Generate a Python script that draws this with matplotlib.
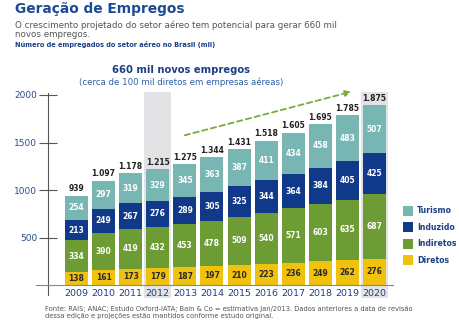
import numpy as np
import matplotlib
matplotlib.use("Agg")
import matplotlib.pyplot as plt
from matplotlib.patches import Rectangle, FancyArrowPatch

plt.rcParams["font.family"] = ["DejaVu Sans"]

YEARS = ["2009", "2010", "2011", "2012", "2013", "2014", "2015",
         "2016", "2017", "2018", "2019", "2020"]
DIRETOS = [138, 161, 173, 179, 187, 197, 210, 223, 236, 249, 262, 276]
INDIRETOS = [334, 390, 419, 432, 453, 478, 509, 540, 571, 603, 635, 687]
INDUZIDO = [213, 249, 267, 276, 289, 305, 325, 344, 364, 384, 405, 425]
TURISMO = [254, 297, 319, 329, 345, 363, 387, 411, 434, 458, 483, 507]
TOTAIS = ["939", "1.097", "1.178", "1.215", "1.275", "1.344", "1.431",
          "1.518", "1.605", "1.695", "1.785", "1.875"]
DESTAQUE = ["2012", "2020"]

SERIES = [
    ("Diretos", DIRETOS, "#f0c20e", "#2a2a2a"),
    ("Indiretos", INDIRETOS, "#6e9c34", "white"),
    ("Induzido", INDUZIDO, "#11398a", "white"),
    ("Turismo", TURISMO, "#78b6b3", "white"),
]

NAVY = "#1d3f84"
W, H = 460, 325


def fx(px):
    return px / W


def fy(py):
    return 1 - py / H


fig = plt.figure(figsize=(W / 100, H / 100), dpi=100)
ax = fig.add_axes([fx(36), fy(295), fx(393) - fx(36), fy(93) - fy(295)])

x = np.arange(len(YEARS))
ax.set_xlim(-1.494, 11.68)
ax.set_ylim(-105, 2021)

# highlighted columns (base year and final projection)
for yr in DESTAQUE:
    i = YEARS.index(yr)
    ax.add_patch(Rectangle((i - 0.5, -137), 1.0, 2032 + 137, facecolor="#e3e3e5",
                           edgecolor="none", zorder=0, clip_on=False))

bottom = np.zeros(len(YEARS))
for name, vals, color, txt in SERIES:
    vals = np.array(vals, dtype=float)
    ax.bar(x, vals, bottom=bottom, width=0.85, color=color, zorder=2)
    for xi, b, v in zip(x, bottom, vals):
        ax.text(xi, b + v / 2, f"{int(v)}", ha="center", va="center",
                color=txt, fontsize=5.5, fontweight="bold", zorder=3)
    bottom += vals

for xi, tot, lab in zip(x, bottom, TOTAIS):
    ax.text(xi, tot + 25, lab, ha="center", va="bottom", color="#222222",
            fontsize=5.5, fontweight="bold", zorder=3)

# axes: vertical line with crossing ticks, baseline at zero
for s in ["top", "right"]:
    ax.spines[s].set_visible(False)
ax.spines["left"].set_position(("data", -1.052))
ax.spines["left"].set_color("#555555")
ax.spines["bottom"].set_position(("data", 0))
ax.spines["bottom"].set_color("#888888")
ax.set_yticks([500, 1000, 1500, 2000])
ax.tick_params(axis="y", direction="inout", length=13.5, width=0.8,
               color="#555555", labelsize=6.5, labelcolor="#2a4a8a", pad=1)
ax.set_xticks(x)
ax.set_xticklabels(YEARS)
ax.tick_params(axis="x", length=0, labelsize=6.8, labelcolor="#1f3f80", pad=3)
ax.set_facecolor("none")

# growth arrow
fig.add_artist(FancyArrowPatch(
    (fx(182), fy(136)), (fx(354), fy(91)), transform=fig.transFigure,
    arrowstyle="-|>", mutation_scale=9, color="#7aab3c", linestyle=(0, (3, 2)),
    linewidth=1.3))

# titles
fig.text(fx(15), fy(9), "Geração de Empregos", color="#1c4a94", fontsize=9.9,
         fontweight="bold", va="center")
fig.text(fx(15), fy(25.5), "O crescimento projetado do setor aéreo tem potencial para gerar 660 mil",
         color="#555555", fontsize=6.3, va="center")
fig.text(fx(15), fy(34.5), "novos empregos.", color="#555555", fontsize=6.3, va="center")
fig.text(fx(15), fy(44.5), "Número de empregados do setor aéreo no Brasil (mil)",
         color=NAVY, fontsize=4.8, fontweight="bold", va="center")
fig.text(fx(181), fy(70), "660 mil novos empregos", color=NAVY, fontsize=7.2,
         fontweight="bold", ha="center", va="center")
fig.text(fx(181), fy(82), "(cerca de 100 mil diretos em empresas aéreas)",
         color="#2d5ea8", fontsize=6.2, ha="center", va="center")

# legend
for k, (name, vals, color, txt) in enumerate(reversed(SERIES)):
    yc = 210.5 + k * 16.6
    fig.add_artist(Rectangle((fx(403), fy(yc + 5)), fx(10), 10 / H,
                             transform=fig.transFigure, facecolor=color, edgecolor="none"))
    fig.text(fx(417), fy(yc), name, color=NAVY, fontsize=5.6, fontweight="bold", va="center")

# source note
fig.text(fx(45), fy(309), "Fonte: RAIS; ANAC; Estudo Oxford-IATA; Bain & Co = estimativa jan/2013. Dados anteriores a data de revisão",
         color="#555555", fontsize=4.85, va="center")
fig.text(fx(45), fy(316), "dessa edição e projeções estão mantidos conforme estudo original.",
         color="#555555", fontsize=4.85, va="center")

fig.savefig("out.png", dpi=100)
